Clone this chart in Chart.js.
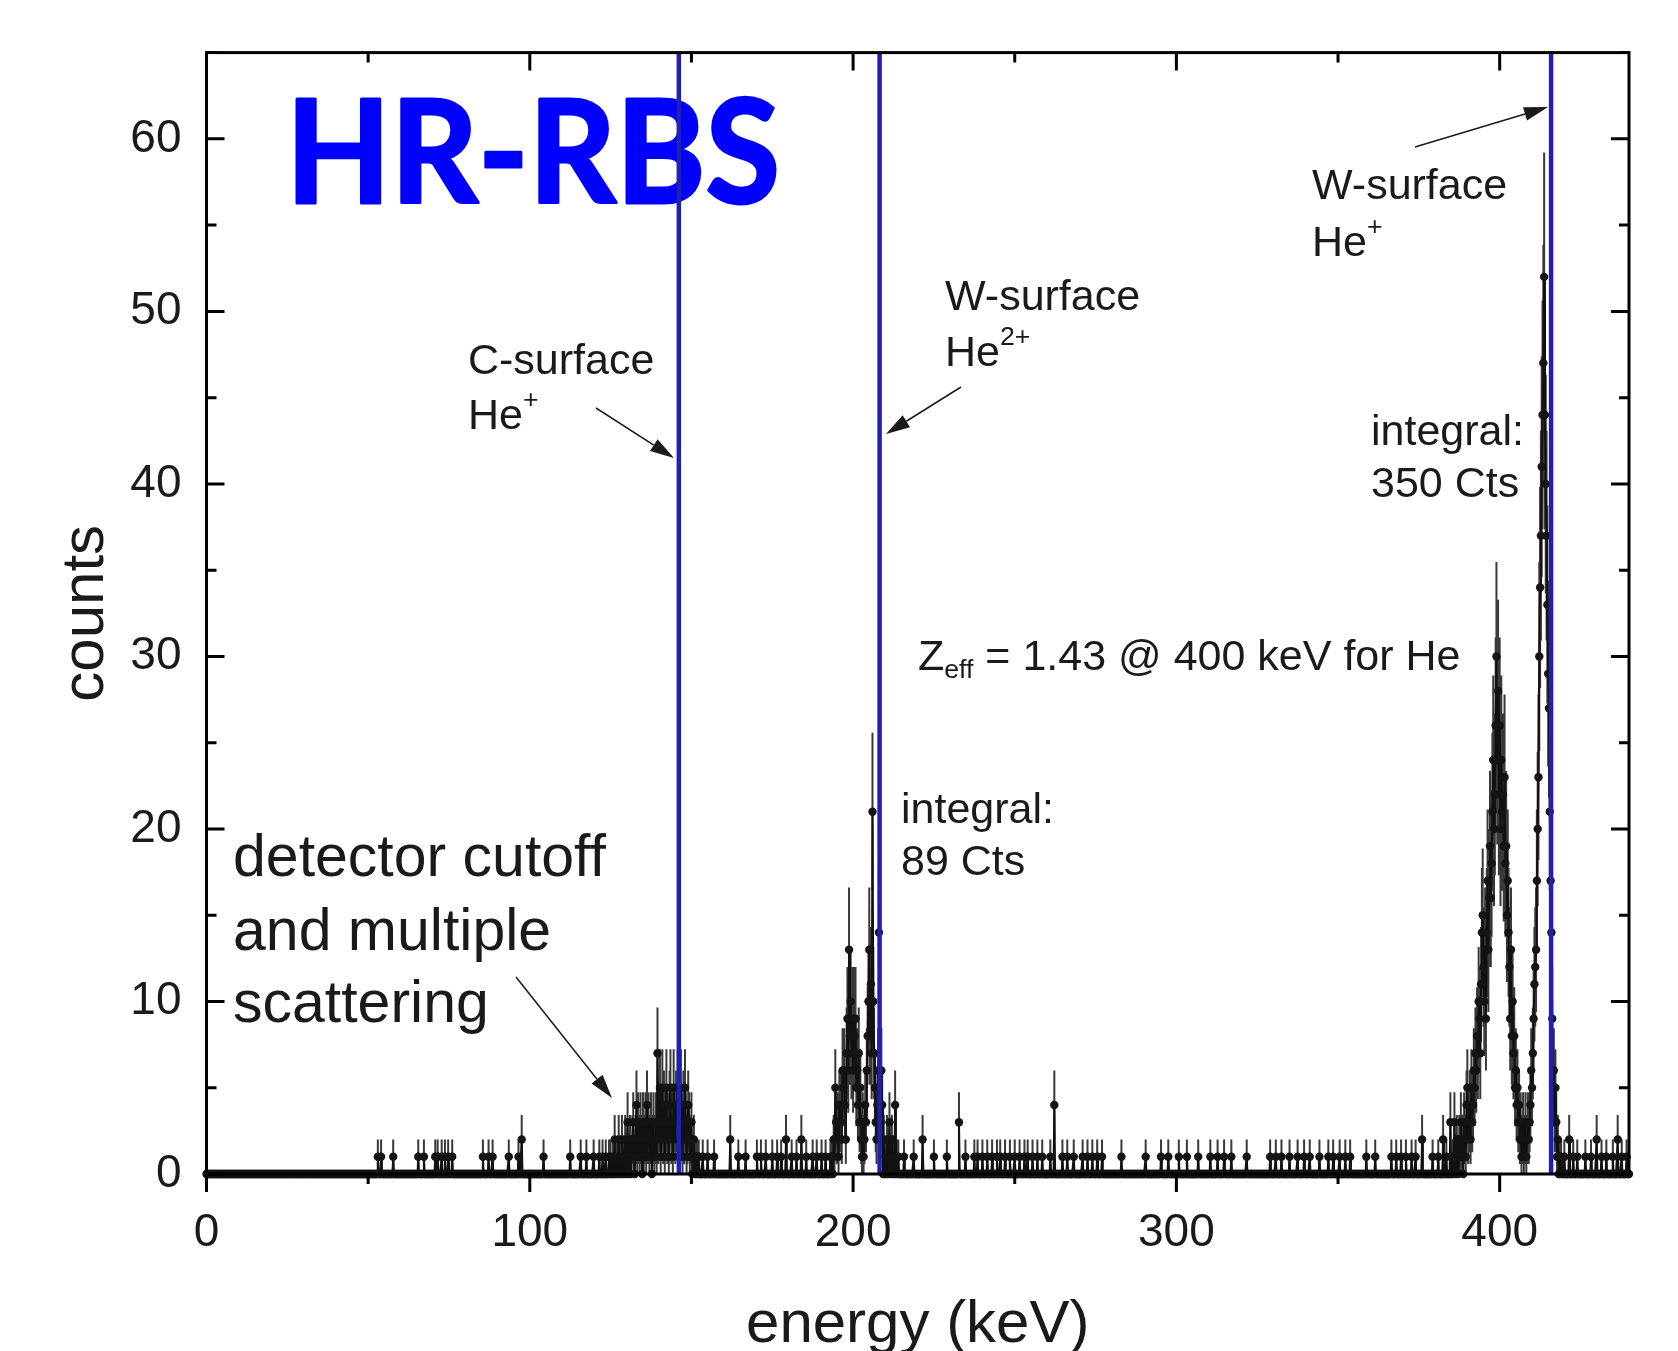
<!DOCTYPE html>
<html>
  <head>
    <style>
      body { margin: 0; background: #fff; }
      #chartContainer { width: 1678px; height: 1351px; }
    </style>
  </head>
  <body>
    <div id="chartContainer">
      <canvas id="myChart" width="1678" height="1351"></canvas>
    </div>

    <script src="https://cdn.jsdelivr.net/npm/chart.js"></script>
    <script>
      // spectrum channels are 0.25 keV wide, 0 .. 440 keV
      const channelStep = 0.25;
      const energyMin = 0;
      const energyMax = 440;

      // isolated background channels (energy in keV)
      const bgOneCount = [53, 54, 57.75, 65.5, 67.25, 70.75, 71.5, 72.75, 73.75, 74.75, 76, 85.5, 87.25, 88.5,
        93.5, 96.5, 104.25, 112.5, 115.75, 117.5, 119.75, 121.5, 122.5, 123.5, 124.5,
        153.5, 155, 157, 164.5, 166.75, 170.25, 171.5, 173, 175, 176.5, 177.75, 181, 182.5, 185.5,
        187.5, 188.75, 190.25, 191.5, 215.75, 218.75, 225, 229, 234.75, 237.5, 238.5, 240, 241.5,
        243, 244.5, 245.5, 247, 248.5, 250, 251.5, 253, 254, 255.5, 257, 258.5, 261, 264.75, 266.25,
        268.25, 271, 272.5, 274, 275.5, 277, 283, 290.5, 295.25, 297.5, 300.75, 303.25, 306.75,
        310.5, 312.75, 314.75, 317, 321.75, 329, 330.75, 332.5, 335, 337.5, 339.5, 341.25, 344.25,
        347, 348.5, 350.5, 352.25, 353.75, 358.75, 361.5, 366.5, 368, 369.5, 371, 372.75, 374,
        379.25, 381, 383.5, 385.5, 419, 420, 422.75, 424, 426.5, 428.25, 431.5, 433, 435, 437.75, 439.25];
      const bgTwoCount = [97.5, 162, 179.25, 184, 221.5, 376, 382.5, 421.5, 430, 436.5];
      const bgOtherEnergy = [232.75, 262.25, 384.75];
      const bgOtherCount = [3, 4, 3];

      // C-surface region, channels from 125 keV
      const cSurfaceStart = 125;
      const cSurfaceCounts = [
        1, 0, 0, 1, 0, 2, 0, 1, 0, 1, 2, 0, 1, 0, 2, 1, 0, 1, 2, 0, 1, 3, 0, 1,
        2, 0, 1, 2, 3, 1, 0, 2, 4, 1, 3, 2, 1, 3, 2, 0, 3, 1, 2, 3, 1, 4, 2, 3,
        1, 2, 3, 0, 2, 3, 1, 2, 3, 1, 7, 2, 3, 5, 1, 3, 5, 2, 4, 1, 3, 5, 2, 3,
        1, 4, 5, 2, 3, 1, 5, 3, 2, 4, 3, 5, 1, 3, 2, 5, 3, 1, 4, 2, 5, 3, 1, 2,
        4, 3, 1, 2, 3, 0, 1, 2, 0, 1, 0, 1, 0, 1];

      // W-surface He2+ region, channels from 193 keV
      const wHe2Start = 193;
      const wHe2Counts = [
        1, 0, 1, 0, 2, 1, 5, 3, 2, 3, 1, 4, 3, 4, 2, 6, 5, 6, 4, 2, 7, 9, 6, 13,
        8, 10, 7, 9, 6, 9, 8, 9, 5, 6, 4, 7, 3, 5, 2, 1, 3, 1, 2, 4, 3, 6, 8, 10,
        13, 8, 11, 7, 21, 10, 7, 5, 3, 2, 4, 6, 14, 6, 3, 6, 4, 0, 2, 0, 1, 0, 2, 0,
        1, 3, 0, 1, 2, 0, 1, 0, 4, 0, 1, 0, 1];

      // He+ region (Z_eff peak and W-surface He+), channels from 386 keV
      const wHe1Start = 386;
      const wHe1Counts = [
        3, 1, 0, 2, 1, 0, 2, 1, 3, 1, 2, 0, 3, 2, 1, 4, 5, 2, 3, 4, 2, 5, 3, 4,
        6, 5, 7, 6, 8, 7, 10, 9, 7, 11, 14, 15, 12, 10, 13, 9, 14, 17, 13, 16,
        19, 16, 18, 21, 24, 20, 22, 26, 30, 24, 28, 22, 26, 20, 24, 21, 22, 19, 23, 18,
        19, 15, 17, 14, 12, 9, 13, 8, 10, 7, 8, 5, 6, 4, 5, 3, 4, 2, 3, 1,
        2, 3, 1, 2, 3, 1, 2, 3, 2, 3, 4, 6, 5, 7, 9, 11, 12, 13, 17, 20,
        23, 30, 34, 37, 41, 44, 47, 52, 44, 40, 37, 33, 29, 27, 21, 17,
        14, 9, 5, 6, 3, 5, 3, 1, 2, 0, 1];

      // surface edge positions (keV)
      const surfaceEnergies = [146.1, 208.2, 415.9];

      const xTicks = [0, 100, 200, 300, 400];
      const xMinorTicks = [50, 150, 250, 350];
      const yTicks = [0, 10, 20, 30, 40, 50, 60];
      const yMinorTicks = [5, 15, 25, 35, 45, 55, 65];

      // build the channel table
      const channelCounts = new Map();
      function put(e, n) { channelCounts.set(Math.round(e / channelStep), n); }
      bgOneCount.forEach(e => put(e, 1));
      bgTwoCount.forEach(e => put(e, 2));
      bgOtherEnergy.forEach((e, i) => put(e, bgOtherCount[i]));
      cSurfaceCounts.forEach((n, i) => put(cSurfaceStart + i * channelStep, n));
      wHe2Counts.forEach((n, i) => put(wHe2Start + i * channelStep, n));
      wHe1Counts.forEach((n, i) => put(wHe1Start + i * channelStep, n));

      const points = [];
      const nChannels = Math.round((energyMax - energyMin) / channelStep);
      for (let i = 0; i <= nChannels; i++) {
        points.push({ x: energyMin + i * channelStep, y: channelCounts.get(i) || 0 });
      }

      const textFont = '"Liberation Sans", Arial, sans-serif';
      const ink = '#1a1a1a';

      function arrow(ctx, x1, y1, x2, y2) {
        const ang = Math.atan2(y2 - y1, x2 - x1);
        const len = 24, half = 7;
        const bx = x2 - len * Math.cos(ang), by = y2 - len * Math.sin(ang);
        ctx.beginPath();
        ctx.moveTo(x1, y1);
        ctx.lineTo(bx, by);
        ctx.stroke();
        ctx.beginPath();
        ctx.moveTo(x2, y2);
        ctx.lineTo(bx + half * Math.sin(ang), by - half * Math.cos(ang));
        ctx.lineTo(bx - half * Math.sin(ang), by + half * Math.cos(ang));
        ctx.closePath();
        ctx.fill();
      }

      // text with optional superscript / subscript pieces
      function richText(ctx, x, y, parts, size) {
        let cx = x;
        parts.forEach(p => {
          let s = size, dy = 0;
          if (p.sup) { s = size * 0.62; dy = -size * 0.38; }
          if (p.sub) { s = size * 0.62; dy = size * 0.3; }
          ctx.font = s + 'px ' + textFont;
          ctx.fillText(p.t, cx, y + dy);
          cx += ctx.measureText(p.t).width;
        });
      }

      const rbsDecor = {
        id: 'rbsDecor',
        beforeDatasetsDraw(chart) {
          const ctx = chart.ctx;
          const xs = chart.scales.x, ys = chart.scales.y;
          ctx.save();
          // big label
          ctx.fillStyle = '#0000ff';
          ctx.strokeStyle = '#0000ff';
          ctx.lineWidth = 3;
          ctx.lineJoin = 'round';
          ctx.font = 'bold 143px Lato, "Open Sans", sans-serif';
          ctx.textBaseline = 'alphabetic';
          ctx.fillText('HR-RBS', 286, 203, 494);
          ctx.strokeText('HR-RBS', 286, 203, 494);
          // poisson error bars
          ctx.strokeStyle = '#3a3a3a';
          ctx.lineWidth = 2;
          ctx.beginPath();
          points.forEach(p => {
            if (p.y <= 0) return;
            const err = Math.sqrt(p.y);
            const px = xs.getPixelForValue(p.x);
            ctx.moveTo(px, ys.getPixelForValue(Math.max(0, p.y - err)));
            ctx.lineTo(px, ys.getPixelForValue(p.y + err));
          });
          ctx.stroke();
          ctx.restore();
        },
        afterDatasetsDraw(chart) {
          const ctx = chart.ctx;
          const xs = chart.scales.x, ys = chart.scales.y;
          const a = chart.chartArea;
          ctx.save();

          // surface edges
          ctx.strokeStyle = '#2020b4';
          ctx.lineWidth = 4.5;
          surfaceEnergies.forEach(e => {
            const px = xs.getPixelForValue(e);
            ctx.beginPath();
            ctx.moveTo(px, a.top);
            ctx.lineTo(px, a.bottom);
            ctx.stroke();
          });

          // frame and ticks
          ctx.strokeStyle = '#000';
          ctx.lineWidth = 3;
          ctx.strokeRect(a.left, a.top, a.right - a.left, a.bottom - a.top);
          function xt(v, len) {
            const px = xs.getPixelForValue(v);
            ctx.beginPath();
            ctx.moveTo(px, a.bottom); ctx.lineTo(px, a.bottom + len);
            ctx.moveTo(px, a.top); ctx.lineTo(px, a.top + len);
            ctx.stroke();
          }
          function yt(v, len) {
            const py = ys.getPixelForValue(v);
            ctx.beginPath();
            ctx.moveTo(a.left, py); ctx.lineTo(a.left + len, py);
            ctx.moveTo(a.right, py); ctx.lineTo(a.right - len, py);
            ctx.stroke();
          }
          xTicks.forEach(v => xt(v, 18));
          xMinorTicks.forEach(v => xt(v, 10));
          yTicks.forEach(v => yt(v, 18));
          yMinorTicks.forEach(v => yt(v, 10));

          // annotations
          ctx.fillStyle = ink;
          ctx.strokeStyle = ink;
          ctx.textBaseline = 'middle';
          ctx.textAlign = 'left';
          const fs = 43;
          richText(ctx, 468, 362, [{ t: 'C-surface' }], fs);
          richText(ctx, 468, 417, [{ t: 'He' }, { t: '+', sup: true }], fs);
          richText(ctx, 945, 298, [{ t: 'W-surface' }], fs);
          richText(ctx, 945, 354, [{ t: 'He' }, { t: '2+', sup: true }], fs);
          richText(ctx, 1312, 187, [{ t: 'W-surface' }], fs);
          richText(ctx, 1312, 244, [{ t: 'He' }, { t: '+', sup: true }], fs);
          richText(ctx, 1371, 433, [{ t: 'integral:' }], fs);
          richText(ctx, 1371, 485, [{ t: '350 Cts' }], fs);
          richText(ctx, 901, 811, [{ t: 'integral:' }], fs);
          richText(ctx, 901, 863, [{ t: '89 Cts' }], fs);
          richText(ctx, 918, 658, [{ t: 'Z' }, { t: 'eff', sub: true }, { t: ' = 1.43 @ 400 keV for He' }], fs);
          richText(ctx, 233, 860, [{ t: 'detector cutoff' }], 59);
          richText(ctx, 233, 934, [{ t: 'and multiple' }], 59);
          richText(ctx, 233, 1006, [{ t: 'scattering' }], 59);

          ctx.lineWidth = 1.5;
          arrow(ctx, 596, 408, 674, 458);
          arrow(ctx, 961, 387, 886, 434);
          arrow(ctx, 1415, 147, 1548, 107);
          arrow(ctx, 516, 977, 612, 1098);
          ctx.restore();
        }
      };

      const ctx = document.getElementById('myChart');

      const spectrumChart = new Chart(ctx, {
        type: 'scatter',
        data: {
          datasets: [{
            label: 'counts',
            data: points,
            showLine: true,
            borderColor: '#111',
            borderWidth: 2,
            pointRadius: 4.2,
            pointBackgroundColor: '#141414',
            pointBorderWidth: 0,
            clip: false
          }]
        },
        options: {
          responsive: false,
          animation: false,
          devicePixelRatio: 1,
          layout: {
            padding: { top: 47, right: 49, left: 0, bottom: 0 }
          },
          plugins: {
            legend: { display: false },
            tooltip: { enabled: false }
          },
          scales: {
            x: {
              type: 'linear',
              min: energyMin,
              max: energyMax,
              afterFit: s => { s.height = 177; },
              grid: { display: false, drawTicks: false },
              border: { display: false },
              ticks: {
                stepSize: 100,
                includeBounds: false,
                padding: 32,
                color: ink,
                font: { family: textFont, size: 46 }
              },
              title: {
                display: true,
                text: 'energy (keV)',
                color: ink,
                padding: 0,
                font: { family: textFont, size: 60, lineHeight: 0.86 }
              }
            },
            y: {
              type: 'linear',
              min: 0,
              max: 65,
              afterFit: s => { s.width = 206.5; },
              grid: { display: false, drawTicks: false },
              border: { display: false },
              ticks: {
                stepSize: 10,
                includeBounds: false,
                padding: 25,
                color: ink,
                font: { family: textFont, size: 46 }
              },
              title: {
                display: true,
                text: 'counts',
                color: ink,
                padding: { top: 50, bottom: 0 },
                font: { family: textFont, size: 60 }
              }
            }
          }
        },
        plugins: [rbsDecor]
      });
    </script>
  </body>
</html>
